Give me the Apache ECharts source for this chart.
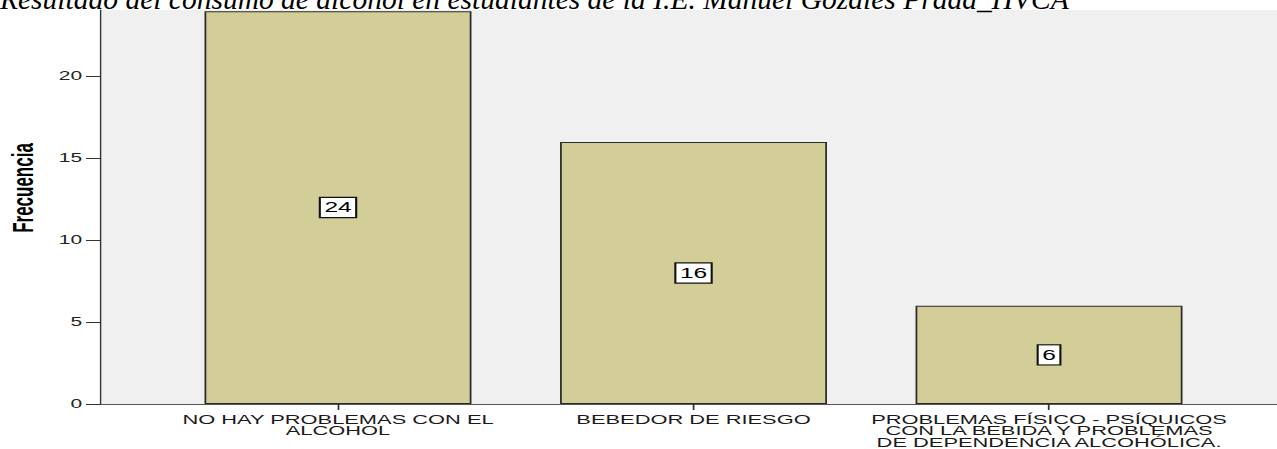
<!DOCTYPE html>
<html>
<head>
<meta charset="utf-8">
<script src="https://cdn.jsdelivr.net/npm/echarts@6.0.0/dist/echarts.min.js"></script>
<style>
  html, body { margin: 0; padding: 0; background: #ffffff; }
  #wrap { position: relative; width: 1277px; height: 449px; overflow: hidden; background: #fff; }
  #chart { position: absolute; left: 0; top: 0; width: 730px; height: 449px; transform-origin: 0 0; }
</style>
</head>
<body>
<div id="wrap"><div id="chart"></div></div>
<script>
// ---- data ----
const titleText = 'Resultado del consumo de alcohol en estudiantes de la I.E. Manuel Gozales Prada_HVCA';
const yAxisName = 'Frecuencia';
const categories = [
  'NO HAY PROBLEMAS CON EL\nALCOHOL',
  'BEBEDOR DE RIESGO',
  'PROBLEMAS FÍSICO - PSÍQUICOS\nCON LA BEBIDA Y PROBLEMAS\nDE DEPENDENCIA ALCOHÓLICA.'
];
const frecuencia = [24, 16, 6];
const yTicks = [0, 5, 10, 15, 20];
const yMax = 24.07;

// ---- layout (the SPSS picture is horizontally stretched) ----
const W = 730;
const S = 1277 / W;
const el = document.getElementById('chart');
el.style.transform = 'scaleX(' + S + ')';

const chart = echarts.init(el, null, { renderer: 'svg', width: W, height: 449 });
const sans = '"Liberation Sans", Arial, sans-serif';

chart.setOption({
  animation: false,
  graphic: [{
    type: 'text',
    x: 0,
    y: -1.0,
    scaleX: 1 / S,
    z: 100,
    silent: true,
    style: {
      text: titleText,
      fontSize: 29.5,
      fontStyle: 'italic',
      fontFamily: '"Liberation Serif", "Times New Roman", serif',
      fill: '#000',
      align: 'left',
      verticalAlign: 'middle'
    }
  }],
  grid: [
    { left: 57.2, right: 0, top: 10, bottom: 45, show: true, backgroundColor: '#f0f0f0', borderWidth: 0, outerBoundsMode: 'none', containLabel: false },
    { left: 91.6, right: 28.7, top: 10, bottom: 45, outerBoundsMode: 'none', containLabel: false }
  ],
  xAxis: [
    {
      gridIndex: 0, type: 'value', min: 0, max: 1,
      axisLine: { show: true, lineStyle: { color: '#555', width: 1 } },
      axisTick: { show: false }, axisLabel: { show: false }, splitLine: { show: false }
    },
    {
      gridIndex: 1, type: 'category', data: categories,
      axisLine: { show: false },
      axisTick: { show: true, alignWithLabel: true, length: 6, lineStyle: { color: '#333', width: 1 } },
      axisLabel: {
        interval: 0, margin: 9.5, fontFamily: sans, fontSize: 12.5, lineHeight: 11.8, color: '#1a1a1a'
      },
      splitLine: { show: false }
    }
  ],
  yAxis: [
    {
      gridIndex: 0, type: 'value', min: 0, max: yMax,
      axisLine: { show: true, lineStyle: { color: '#333', width: 0.8 } },
      axisTick: { show: true, length: 8, customValues: yTicks, lineStyle: { color: '#333', width: 1 } },
      axisLabel: { customValues: yTicks, margin: 10.3, fontFamily: sans, fontSize: 12, color: '#222' },
      splitLine: { show: false },
      name: yAxisName,
      nameLocation: 'middle',
      nameGap: 36,
      nameTextStyle: { fontFamily: sans, fontWeight: 'bold', fontSize: 17, color: '#000', padding: [0, 0, 0, 38] }
    },
    { gridIndex: 1, type: 'value', min: 0, max: yMax, show: false }
  ],
  series: [{
    type: 'bar',
    xAxisIndex: 1,
    yAxisIndex: 1,
    data: frecuencia,
    barWidth: 152.6,
    itemStyle: { color: '#d3ce97', borderColor: '#2a2a2a', borderWidth: 1 },
    label: {
      show: true, position: 'inside', color: '#000', fontFamily: sans, fontSize: 14, lineHeight: 14,
      backgroundColor: '#fff', borderColor: '#111', borderWidth: 1.2, padding: [3, 2, 2, 2]
    }
  }]
});
</script>
</body>
</html>
